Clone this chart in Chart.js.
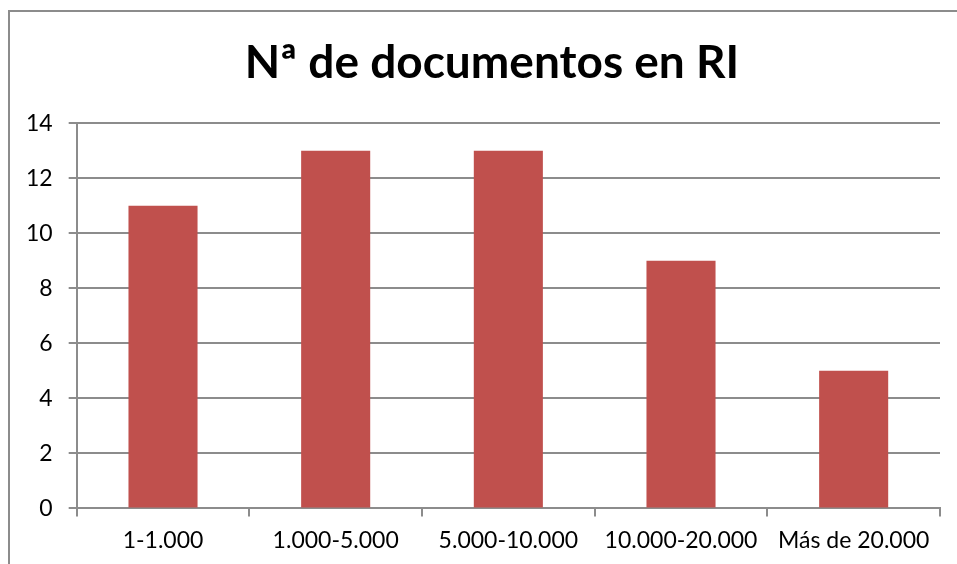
<!DOCTYPE html>
<html lang="es">
<head>
    <meta charset="UTF-8">
    <title>Nª de documentos en RI</title>
    <script src="https://cdn.jsdelivr.net/npm/chart.js"></script>
    <style>
        html, body { margin: 0; padding: 0; background: #fff; overflow: hidden; }
        #frame {
            position: absolute; left: 8px; top: 10px; width: 960px; height: 560px;
            border-left: 2px solid #8c8c8c; border-top: 2px solid #8c8c8c;
        }
        #wrap { position: absolute; left: 0; top: 0; width: 947px; height: 552px; }
    </style>
</head>
<body>
    <div id="frame">
        <div id="wrap"><canvas id="chart"></canvas></div>
    </div>

    <script>
        // Data
        const categories = ['1-1.000', '1.000-5.000', '5.000-10.000', '10.000-20.000', 'Más de 20.000'];
        const documentCounts = [11, 13, 13, 9, 5];
        const yTicks = [0, 2, 4, 6, 8, 10, 12, 14];

        const fontFamily = 'Lato, "Open Sans", sans-serif';
        const gridGray = '#8c8c8c';

        // nudge the title box so it sits where the original has it
        const shiftTitle = {
            id: 'shiftTitle',
            afterLayout(chart) {
                if (chart.titleBlock) chart.titleBlock.left += 34;
            }
        };

        new Chart(document.getElementById('chart'), {
            type: 'bar',
            data: {
                labels: categories,
                datasets: [{
                    data: documentCounts,
                    backgroundColor: '#c0504d',
                    categoryPercentage: 1.0,
                    barPercentage: 0.4
                }]
            },
            options: {
                responsive: true,
                maintainAspectRatio: false,
                animation: false,
                layout: { padding: { left: 0, right: 17, top: 10, bottom: 0 } },
                plugins: {
                    legend: { display: false },
                    tooltip: { enabled: false },
                    title: {
                        display: true,
                        text: 'Nª de documentos en RI',
                        color: '#000',
                        font: { family: fontFamily, size: 46, weight: 'bold' },
                        padding: { top: 14, bottom: 32 }
                    }
                },
                scales: {
                    x: {
                        grid: {
                            drawOnChartArea: false,
                            color: gridGray,
                            lineWidth: 2,
                            tickLength: 8
                        },
                        border: { color: gridGray, width: 2 },
                        ticks: {
                            color: '#000',
                            font: { family: fontFamily, size: 23 },
                            padding: 10,
                            maxRotation: 0,
                            autoSkip: false
                        }
                    },
                    y: {
                        min: 0,
                        max: 14,
                        afterBuildTicks: axis => { axis.ticks = yTicks.map(v => ({ value: v })); },
                        grid: {
                            color: gridGray,
                            lineWidth: 2,
                            tickLength: 8
                        },
                        border: { color: gridGray, width: 2 },
                        ticks: {
                            color: '#000',
                            font: { family: fontFamily, size: 23 },
                            padding: 16
                        }
                    }
                }
            },
            plugins: [shiftTitle]
        });
    </script>
</body>
</html>
